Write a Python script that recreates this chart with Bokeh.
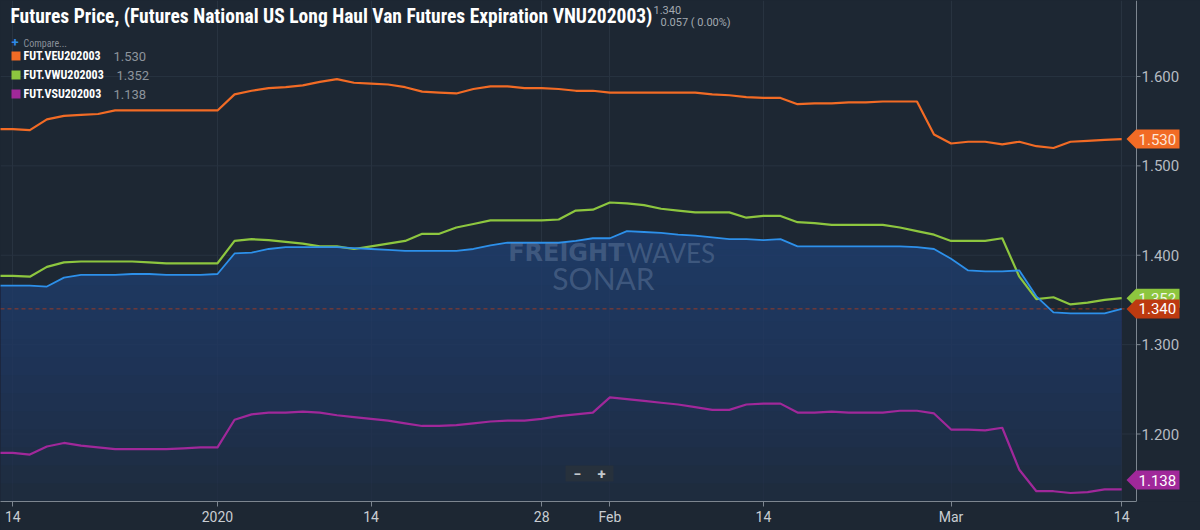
import numpy as np
import pandas as pd
from bokeh.plotting import figure
from bokeh.models import (Range1d, FixedTicker, Label, Span,
                          BoxAnnotation, PolyAnnotation)
from bokeh.embed import file_html
from bokeh.resources import INLINE

# ---------------- data ----------------
dates = [d.strftime("%Y-%m-%d") for d in pd.bdate_range("2019-12-13", "2020-03-16")]

tick_dates = ["2019-12-16", "2020-01-01", "2020-01-14", "2020-01-28",
              "2020-02-03", "2020-02-14", "2020-03-02", "2020-03-16"]
tick_labels = ["14", "2020", "14", "28", "Feb", "14", "Mar", "14"]

y_ticks = [1.2, 1.3, 1.4, 1.5, 1.6]

veu = [1.541, 1.541, 1.540, 1.552, 1.556, 1.557, 1.558, 1.562, 1.562, 1.562,
       1.562, 1.562, 1.562, 1.562, 1.580, 1.584, 1.587, 1.588, 1.590, 1.594,
       1.597, 1.593, 1.592, 1.591, 1.588, 1.583, 1.582, 1.581, 1.586, 1.589,
       1.589, 1.587, 1.587, 1.586, 1.584, 1.584, 1.582, 1.582, 1.582, 1.582,
       1.582, 1.582, 1.580, 1.579, 1.577, 1.576, 1.576, 1.569, 1.570, 1.570,
       1.571, 1.571, 1.572, 1.572, 1.572, 1.535, 1.525, 1.527, 1.527, 1.524,
       1.527, 1.522, 1.520, 1.527, 1.528, 1.529, 1.530]

vwu = [1.377, 1.377, 1.376, 1.387, 1.392, 1.393, 1.393, 1.393, 1.393, 1.392,
       1.391, 1.391, 1.391, 1.391, 1.416, 1.418, 1.417, 1.415, 1.413, 1.410,
       1.410, 1.407, 1.410, 1.413, 1.416, 1.424, 1.424, 1.431, 1.435, 1.439,
       1.439, 1.439, 1.439, 1.440, 1.450, 1.451, 1.459, 1.458, 1.456, 1.452,
       1.450, 1.448, 1.448, 1.448, 1.442, 1.444, 1.444, 1.437, 1.436, 1.434,
       1.434, 1.434, 1.434, 1.431, 1.427, 1.423, 1.416, 1.416, 1.416, 1.419,
       1.376, 1.351, 1.353, 1.345, 1.347, 1.350, 1.352]

vnu = [1.366, 1.366, 1.366, 1.365, 1.375, 1.378, 1.378, 1.378, 1.379, 1.379,
       1.378, 1.378, 1.378, 1.379, 1.402, 1.403, 1.407, 1.409, 1.409, 1.409,
       1.409, 1.408, 1.407, 1.406, 1.405, 1.405, 1.405, 1.405, 1.407, 1.411,
       1.414, 1.414, 1.414, 1.414, 1.416, 1.419, 1.419, 1.427, 1.426, 1.425,
       1.423, 1.422, 1.420, 1.418, 1.418, 1.417, 1.418, 1.410, 1.410, 1.410,
       1.410, 1.410, 1.410, 1.410, 1.409, 1.407, 1.396, 1.383, 1.382, 1.382,
       1.383, 1.354, 1.336, 1.335, 1.335, 1.335, 1.340]

vsu = [1.179, 1.179, 1.177, 1.186, 1.190, 1.187, 1.185, 1.183, 1.183, 1.183,
       1.183, 1.184, 1.185, 1.185, 1.216, 1.222, 1.224, 1.224, 1.225, 1.224,
       1.221, 1.219, 1.217, 1.215, 1.212, 1.209, 1.209, 1.210, 1.212, 1.214,
       1.215, 1.215, 1.217, 1.220, 1.222, 1.224, 1.241, 1.239, 1.237, 1.235,
       1.233, 1.230, 1.227, 1.227, 1.233, 1.234, 1.234, 1.224, 1.224, 1.225,
       1.224, 1.224, 1.224, 1.226, 1.226, 1.223, 1.205, 1.205, 1.204, 1.207,
       1.160, 1.136, 1.136, 1.134, 1.135, 1.138, 1.138]

main_change = "0.057 ( 0.00%)"

# ---------------- styling / layout ----------------
BG = "#1d2733"
GRID = "#283340"
AXIS = "#7d8690"
C_VEU = "#f26b25"
C_VWU = "#8dc63f"
C_VNU = "#2d90ea"
C_VSU = "#a0289a"
C_MAIN_TAG = "#bd3a10"

W, H = 1200, 530
AX_PX, FRAME_H = 1136, 501
PX_PER_DAY = 17.06
Y0, Y1 = 1.1245, 1.685

x = np.arange(len(dates))
tick_pos = [dates.index(d) for d in tick_dates]
X0 = tick_pos[1] - 217 / PX_PER_DAY
X1 = X0 + W / PX_PER_DAY
X_AX = X0 + AX_PX / PX_PER_DAY
px = (Y1 - Y0) / FRAME_H  # data units per pixel (vertical)

p = figure(width=W, height=H, x_range=Range1d(X0, X1), y_range=Range1d(Y0, Y1),
           output_backend="svg", toolbar_location=None, y_axis_location=None,
           min_border_left=0, min_border_top=0, min_border_right=0,
           min_border_bottom=H - FRAME_H, background_fill_color=BG,
           border_fill_color=BG, outline_line_color=None)

# bottom axis
p.xaxis.ticker = FixedTicker(ticks=tick_pos)
p.xaxis.major_label_overrides = {pos: lab for pos, lab in zip(tick_pos, tick_labels)}
p.xaxis.bounds = (X0, X_AX)
p.xaxis.minor_tick_line_color = None
p.xaxis.major_tick_out = 5
p.xaxis.major_tick_in = 0
p.xaxis.major_tick_line_color = AXIS
p.xaxis.axis_line_color = AXIS
p.xaxis.major_label_text_color = "#c9cdd2"
p.xaxis.major_label_text_font = "Roboto"
p.xaxis.major_label_text_font_size = "14px"
p.xaxis.major_label_standoff = 2
p.xgrid.grid_line_color = GRID
p.ygrid.grid_line_color = None

# horizontal grid lines, right axis line, ticks and labels
p.segment(x0=X0, x1=X_AX, y0=y_ticks, y1=y_ticks, line_color=GRID, line_width=1)
p.add_layout(Span(location=X_AX, dimension="height", line_color=AXIS, line_width=1))
p.segment(x0=X_AX, x1=X_AX + 4 / PX_PER_DAY, y0=y_ticks, y1=y_ticks, line_color=AXIS)
for t in y_ticks:
    p.add_layout(Label(x=AX_PX + 5, y=t, x_units="screen", y_units="data",
                       text=f"{t:.3f}", text_font="Roboto", text_font_size="15px",
                       text_color="#b6bbc2", text_baseline="middle", text_align="left"))

# gradient-like area under main series (layered translucent fills)
vnu_arr = np.array(vnu)
p.varea(x=x, y1=Y0, y2=vnu_arr, fill_color="#1f2c3e", fill_alpha=0.75)
N = 15
top = vnu_arr.max()
for k in range(N):
    lvl = Y0 + (top - Y0) * k / N
    p.varea(x=x, y1=lvl, y2=np.maximum(vnu_arr, lvl), fill_color="#284a80", fill_alpha=0.0706)

# current price dashed line
p.segment(x0=X0, x1=X_AX, y0=vnu[-1], y1=vnu[-1], line_color="#b43c1c",
          line_dash="4 3", line_alpha=0.8, line_width=1)

# series lines
p.line(x, veu, line_color=C_VEU, line_width=2.2, line_join="round")
p.line(x, vwu, line_color=C_VWU, line_width=2.2, line_join="round")
p.line(x, vsu, line_color=C_VSU, line_width=2.2, line_join="round")
p.line(x, vnu, line_color=C_VNU, line_width=1.8, line_join="round")


def sy(y_top):
    return FRAME_H - y_top


def label(text, x_px, y_top, size, color, style="normal", font="Roboto",
          align="left", alpha=1.0):
    p.add_layout(Label(x=x_px, y=sy(y_top), x_units="screen", y_units="screen",
                       text=text, text_font=font, text_font_size=size,
                       text_color=color, text_font_style=style, text_align=align,
                       text_baseline="middle", text_alpha=alpha))


# watermark
label("FREIGHT", 624, 252, "24px", "#6f86a8", "bold", "DejaVu Sans", "right", alpha=0.42)
label("WAVES", 626, 252, "26px", "#6f86a8", "normal", "Lato", alpha=0.42)
label("SONAR", 603, 277, "30px", "#6f86a8", "normal", "Lato", "center", alpha=0.42)

# title
label("Futures Price, (Futures National US Long Haul Van Futures Expiration VNU202003)",
      10, 16, "19.5px", "#ffffff", "bold", "Roboto Condensed")
label(f"{vnu[-1]:.3f}", 653, 9, "11px", "#a3a9b0")
label(main_change, 660, 22, "11px", "#a3a9b0")

# legend
label("+", 11, 42, "13px", "#2e8ae6", "bold")
label("Compare...", 23, 43, "10px", "#8a9099", font="Roboto Condensed")
legend_rows = [("FUT.VEU202003", veu[-1], C_VEU, 55.5, 113),
               ("FUT.VWU202003", vwu[-1], C_VWU, 74.5, 116),
               ("FUT.VSU202003", vsu[-1], C_VSU, 93.5, 113)]
for name, last, col, yt, vx in legend_rows:
    p.add_layout(BoxAnnotation(left=11, right=20, top=sy(yt - 4.5), bottom=sy(yt + 4.5),
                               left_units="screen", right_units="screen",
                               top_units="screen", bottom_units="screen",
                               fill_color=col, fill_alpha=1, line_color=None))
    label(name, 23, yt, "12px", "#ffffff", "bold", "Roboto Condensed")
    label(f"{last:.3f}", vx, yt, "13px", "#8d949c")

# zoom control
p.add_layout(BoxAnnotation(left=565, right=613, top=sy(465), bottom=sy(481),
                           left_units="screen", right_units="screen",
                           top_units="screen", bottom_units="screen",
                           fill_color="#27313c", fill_alpha=1, line_color=None))
label("\u2212", 577, 472.5, "14px", "#c3c8cd", "bold", align="center")
label("+", 601, 472.5, "15px", "#c3c8cd", "bold", align="center")

# price tags on the right axis
hd = 9.5 * px
tags = [(veu[-1], C_VEU, "#fde6d8"), (vwu[-1], C_VWU, "#f3f8ec"),
        (vsu[-1], C_VSU, "#ffffff"), (vnu[-1], C_MAIN_TAG, "#ffffff")]
for v, col, tcol in tags:
    yc = min(max(v, Y0 + hd + 12 * px), Y1 - hd)
    p.add_layout(PolyAnnotation(xs=[1126, 1135.5, 1179, 1179, 1135.5],
                                ys=[yc, yc + hd, yc + hd, yc - hd, yc - hd],
                                xs_units="screen", ys_units="data",
                                fill_color=col, fill_alpha=1, line_color=None))
    p.add_layout(Label(x=1138, y=yc, x_units="screen", y_units="data",
                       text=f"{v:.3f}", text_font="Roboto", text_font_size="15px",
                       text_color=tcol, text_baseline="middle", text_align="left"))

html = file_html(p, INLINE, title="Futures Price")
html = html.replace("</head>", "<style>html,body{margin:0;padding:0;background:%s;overflow:hidden}</style></head>" % BG, 1)
open("out.html", "w").write(html)
